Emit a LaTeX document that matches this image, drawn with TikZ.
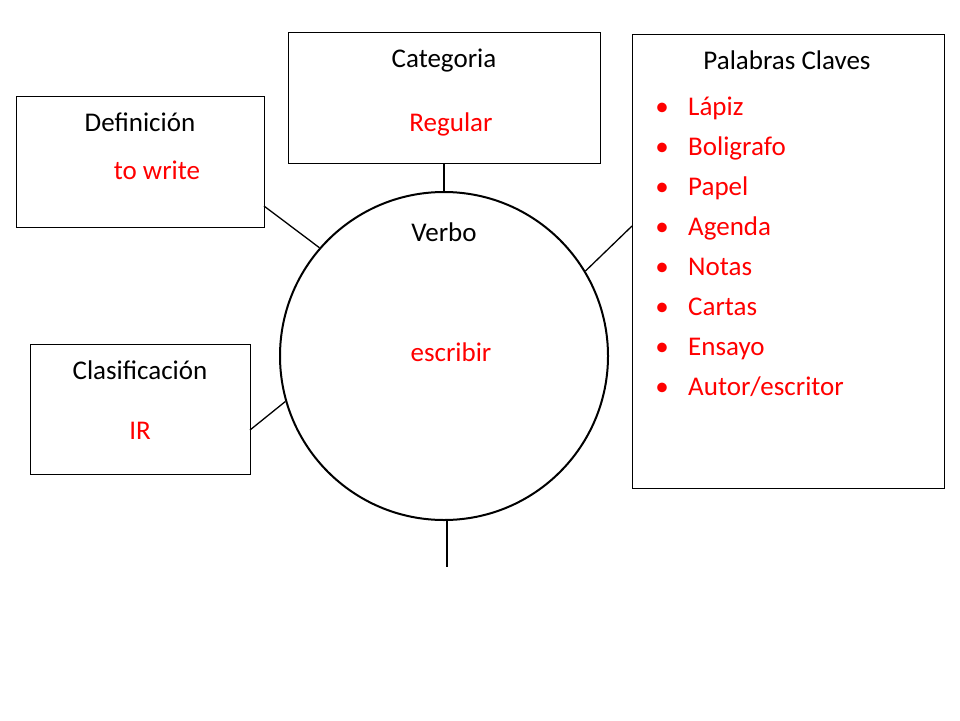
\documentclass[tikz,border=0pt]{standalone}
\usepackage{fontspec}
\setmainfont{Carlito}
\begin{document}
\begin{tikzpicture}[x=1pt,y=-1pt,
  box/.style={draw,line width=0.8pt},
  lbl/.style={font=\fontsize{27}{32}\selectfont,inner sep=0pt,anchor=base},
  red/.style={text={rgb,255:red,255;green,0;blue,0}},
  ln/.style={line width=1.3pt}]
\useasboundingbox (0,0) rectangle (960,720);
\fill[white] (0,0) rectangle (960,720);
\draw[box] (288,32) rectangle (600,163);
\coordinate (catS) at (444,163);
\draw[box] (16,96) rectangle (264,227);
\coordinate (defC) at (264,206);
\draw[box] (30,344) rectangle (250,474);
\coordinate (claC) at (250,430);
\draw[box] (632,34) rectangle (944,488);
\coordinate (palC) at (632,226);
\node[draw,circle,line width=2pt,minimum size=328pt,inner sep=0pt] (c) at (444,356) {};
\coordinate (bot) at (447,567);
\draw[ln] (catS) -- (c.north);
\draw[ln] (defC) -- (c.139);
\draw[ln] (claC) -- (c.196);
\draw[ln] (palC) -- (c.31);
\draw[ln] (447,520) -- (bot);
\node[lbl] (t1) at (444,67) {Categoria};
\node[lbl,red] (t2) at (451,131) {Regular};
\node[lbl] (t3) at (140,131) {Definición};
\node[lbl,red] (t4) at (157,179) {to write};
\node[lbl] (t5) at (140,379) {Clasificación};
\node[lbl,red] (t6) at (140,439) {IR};
\node[lbl] (t7) at (444,241) {Verbo};
\node[lbl,red] (t8) at (451,361) {escribir};
\node[lbl] (t9) at (787,69) {Palabras Claves};
\foreach \w [count=\i] in {Lápiz,Boligrafo,Papel,Agenda,Notas,Cartas,Ensayo,Autor/escritor}{
  \node[lbl,red] (b\i) at (662,75+40*\i) {•};
  \node[lbl,red,anchor=base west] (w\i) at (688,75+40*\i) {\w};
}
\end{tikzpicture}
\end{document}
